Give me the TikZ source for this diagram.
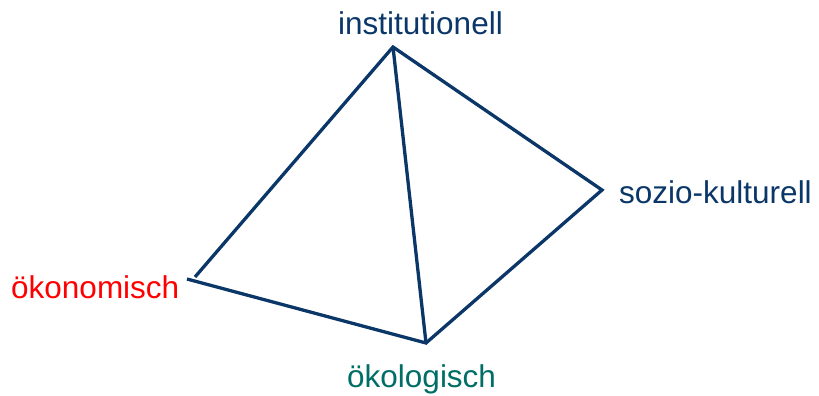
\documentclass[tikz,border=0pt]{standalone}
\usepackage{fontspec}
\setmainfont{Liberation Sans}
\usetikzlibrary{positioning}
\definecolor{DimNavy}{HTML}{0B3668}
\definecolor{DimRed}{HTML}{FF0000}
\definecolor{DimTeal}{HTML}{006E66}

\begin{document}
\begin{tikzpicture}[
    x=1pt, y=1pt,
    edge/.style={line width=3.3pt, draw=DimNavy},
    dim/.style={inner sep=0pt, anchor=base west, font=\fontsize{31.5}{37}\selectfont, text=DimNavy}
  ]
    \useasboundingbox (0,0) rectangle (819,396);

    \coordinate (top) at (393,349);
    \coordinate (right) at (602,206);
    \coordinate (bottom) at (426,53);
    \coordinate (lefta) at (195,119);
    \coordinate (leftb) at (187,117);

    \node[dim] (inst) at (338,361) {institutionell};
    \node[dim] (sozio) at (619,192) {sozio-kulturell};
    \node[dim, text=DimRed] (oeko) at (11,97) {ökonomisch};
    \node[dim, text=DimTeal] (oeko2) at (347,8) {ökologisch};

    \draw[edge] (lefta) -- (top) -- (right) -- (bottom) -- (leftb);
    \draw[edge] (top) -- (bottom);
  \end{tikzpicture}
\end{document}
